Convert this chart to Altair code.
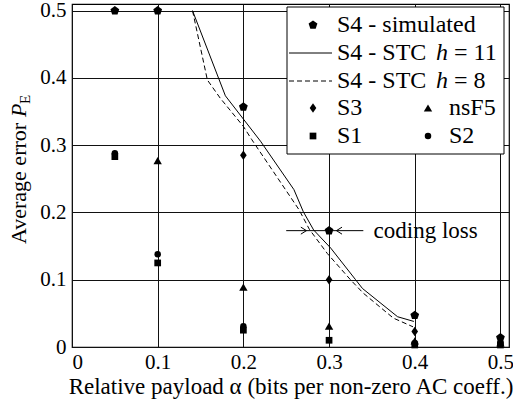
import altair as alt
import pandas as pd

FONT = "'Liberation Serif', 'Times New Roman', 'DejaVu Serif', serif"

# ---- data ----
alpha_sim = [0.05, 0.1, 0.2, 0.3, 0.4, 0.5]
pe_sim = [0.5, 0.5, 0.357, 0.173, 0.047, 0.014]
alpha_s3 = [0.2, 0.3, 0.4, 0.5]
pe_s3 = [0.285, 0.1, 0.023, 0.008]
alpha_nsf5 = [0.1, 0.2, 0.3, 0.4, 0.5]
pe_nsf5 = [0.277, 0.089, 0.031, 0.009, 0.006]
alpha_s1 = [0.05, 0.1, 0.2, 0.3, 0.4, 0.5]
pe_s1 = [0.283, 0.125, 0.025, 0.01, 0.003, 0.003]
alpha_s2 = [0.05, 0.1, 0.2, 0.4, 0.5]
pe_s2 = [0.288, 0.138, 0.031, 0.006, 0.005]
alpha_h11 = [0.1407, 0.179, 0.22, 0.259, 0.27, 0.282, 0.302, 0.331, 0.339, 0.38, 0.399]
pe_h11 = [0.5, 0.3735, 0.306, 0.234, 0.201, 0.174, 0.147, 0.10, 0.087, 0.045, 0.038]
alpha_h8 = [0.1407, 0.158, 0.173, 0.2, 0.21, 0.265, 0.277, 0.298, 0.325, 0.34, 0.375, 0.398]
pe_h8 = [0.5, 0.397, 0.37, 0.328, 0.308, 0.204, 0.175, 0.139, 0.1, 0.08, 0.043, 0.03]

# annotation "coding loss"
loss_line_x = [0.25, 0.34]
loss_y = 0.173
arrow_right_x = 0.2736
arrow_left_x = 0.3086
loss_text_x = 0.352

tick_vals = [0, 0.1, 0.2, 0.3, 0.4, 0.5]

PENTAGON = "M0,-1 L0.951,-0.309 L0.588,0.809 L-0.588,0.809 L-0.951,-0.309 Z"
DIAMOND = "M0,-1 L0.7,0 L0,1 L-0.7,0 Z"
CHEV_R = "M-1.6,-1 L0,0 L-1.6,1"
CHEV_L = "M1.6,-1 L0,0 L1.6,1"

W, H = 437, 343
xs = alt.Scale(domain=[0, 0.51], nice=False, zero=False)
ys = alt.Scale(domain=[0, 0.51], nice=False, zero=False)

def df(a, p):
    return pd.DataFrame({"alpha": a, "pe": p})

X = alt.X("alpha:Q", scale=xs,
          axis=alt.Axis(values=tick_vals, title="Relative payload α (bits per non-zero AC coeff.)",
                        labelExpr="datum.value == 0 ? '0' : format(datum.value, '.1f')"))
Y = alt.Y("pe:Q", scale=ys,
          axis=alt.Axis(values=tick_vals, title=None,
                        labelExpr="datum.value == 0 ? '0' : format(datum.value, '.1f')"))

def pts(a, p, shape, size):
    return alt.Chart(df(a, p)).mark_point(shape=shape, size=size, filled=True,
                                          color="black", opacity=1).encode(x=X, y=Y)

line11 = alt.Chart(df(alpha_h11, pe_h11)).mark_line(color="black", strokeWidth=1).encode(x=X, y=Y)
line8 = alt.Chart(df(alpha_h8, pe_h8)).mark_line(color="black", strokeWidth=1,
                                                 strokeDash=[5, 3]).encode(x=X, y=Y)

s1 = pts(alpha_s1, pe_s1, "square", 45)
s2 = pts(alpha_s2, pe_s2, "circle", 42)
nsf5 = pts(alpha_nsf5, pe_nsf5, "triangle-up", 70)
s3 = pts(alpha_s3, pe_s3, DIAMOND, 90)
sim = pts(alpha_sim, pe_sim, PENTAGON, 85)

loss_df = pd.DataFrame({"alpha": [loss_line_x[0]], "alpha2": [loss_line_x[1]], "pe": [loss_y]})
loss_rule = alt.Chart(loss_df).mark_rule(color="black", strokeWidth=1).encode(
    x=X, x2="alpha2:Q", y=Y)
arr_r = alt.Chart(df([arrow_right_x], [loss_y])).mark_point(
    shape=CHEV_R, size=49, filled=False, color="black", strokeWidth=1, opacity=1).encode(x=X, y=Y)
arr_l = alt.Chart(df([arrow_left_x], [loss_y])).mark_point(
    shape=CHEV_L, size=49, filled=False, color="black", strokeWidth=1, opacity=1).encode(x=X, y=Y)
loss_txt = alt.Chart(pd.DataFrame({"alpha": [loss_text_x], "pe": [loss_y], "t": ["coding loss"]})).mark_text(
    align="left", baseline="middle", font=FONT, fontSize=23, color="black").encode(x=X, y=Y, text="t:N")

# ---- manual legend (pixel positions relative to plot area) ----
one = pd.DataFrame({"k": [0]})
leg_box = alt.Chart(one).mark_rect(fill="white", stroke="black", strokeWidth=1).encode(
    x=alt.value(215), x2=alt.value(432), y=alt.value(3), y2=alt.value(150))

def leg_sym(x, y, shape, size):
    return alt.Chart(one).mark_point(shape=shape, size=size, filled=True, color="black", opacity=1).encode(
        x=alt.value(x), y=alt.value(y))

def leg_txt(x, y, t, italic=False, size=24):
    return alt.Chart(pd.DataFrame({"t": [t]})).mark_text(
        align="left", baseline="middle", font=FONT, fontSize=size, color="black",
        fontStyle="italic" if italic else "normal").encode(x=alt.value(x), y=alt.value(y), text="t:N")

r1, r2, r3, r4, r5 = 21, 49, 77, 104, 132
legend = [
    leg_box,
    leg_sym(241, r1, PENTAGON, 85), leg_txt(265, r1, "S4 - simulated"),
    alt.Chart(one).mark_rule(color="black", strokeWidth=1).encode(
        x=alt.value(217), x2=alt.value(260), y=alt.value(r2)),
    leg_txt(265, r2, "S4 - STC"), leg_txt(364, r2, "h", italic=True), leg_txt(382, r2, "= 11"),
    alt.Chart(one).mark_rule(color="black", strokeWidth=1, strokeDash=[5, 3]).encode(
        x=alt.value(217), x2=alt.value(260), y=alt.value(r3)),
    leg_txt(265, r3, "S4 - STC"), leg_txt(364, r3, "h", italic=True), leg_txt(382, r3, "= 8"),
    leg_sym(241, r4, DIAMOND, 90), leg_txt(265, r4, "S3"),
    leg_sym(356, r4, "triangle-up", 70), leg_txt(377, r4, "nsF5"),
    leg_sym(241, r5, "square", 45), leg_txt(265, r5, "S1"),
    leg_sym(356, r5, "circle", 42), leg_txt(377, r5, "S2"),
]

# ---- y axis title in pieces (italic P, subscript E) ----
def ytxt(x, y, t, italic=False, size=22):
    return alt.Chart(pd.DataFrame({"t": [t]})).mark_text(
        align="left", baseline="alphabetic", angle=270, font=FONT, fontSize=size, color="black",
        fontStyle="italic" if italic else "normal").encode(x=alt.value(x), y=alt.value(y), text="t:N")

ytitle = [
    ytxt(-46, 240, "Average error"),
    ytxt(-46, 113, "P", italic=True),
    ytxt(-42, 100, "E", size=15),
]

chart = alt.layer(
    line8, line11, loss_rule, arr_r, arr_l, loss_txt,
    s1, s2, nsf5, s3, sim,
    *legend, *ytitle
).properties(
    width=W, height=H,
    autosize="none",
    padding={"left": 72, "top": 4, "right": 4, "bottom": 60},
).configure_view(
    stroke="black", strokeWidth=1.2
).configure_axis(
    grid=True, gridColor="#111", gridWidth=1, gridOpacity=1,
    domain=False, ticks=False,
    labelFont=FONT, labelFontSize=21, labelColor="black",
    titleFont=FONT, titleFontSize=23, titleFontWeight="normal", titleColor="black",
).configure_axisX(labelPadding=4, titlePadding=3
).configure_axisY(labelPadding=6)

chart.save("out.html", embed_options={"renderer": "svg", "actions": False})
